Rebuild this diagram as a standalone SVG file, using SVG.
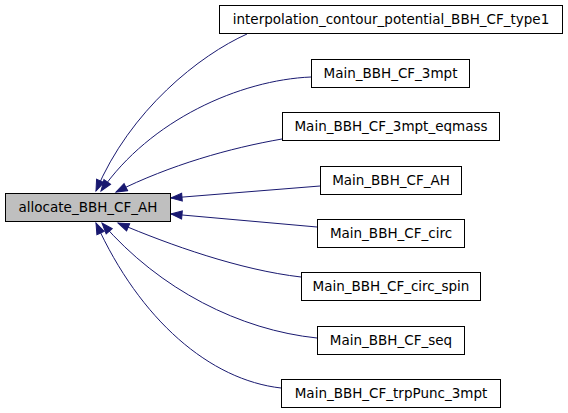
<svg xmlns="http://www.w3.org/2000/svg" width="568" height="413" viewBox="0 0 568 413">
<style>
.n rect{fill:#fff;stroke:#000;stroke-width:1}
.n.m rect{fill:#bfbfbf}
.n text{font-family:"DejaVu Sans",sans-serif;font-size:13.5px;text-anchor:middle;fill:#000}
.e path{fill:none;stroke:#191970;stroke-width:1}
</style>
<defs>
<marker id="a" markerUnits="userSpaceOnUse" markerWidth="14" markerHeight="12" refX="12" refY="5" orient="auto">
<path d="M1,1 L12,5 L1,9 z" fill="#191970" stroke="#191970"/>
</marker>
</defs>
<g class="e">
<path d="M247,34 C200,55 130,110 96,191" marker-end="url(#a)"/>
<path d="M311,77 C240,80 150,120 101,191" marker-end="url(#a)"/>
<path d="M282,139 C230,148 170,165 116,192" marker-end="url(#a)"/>
<path d="M320,186 L171,198" marker-end="url(#a)"/>
<path d="M317,227 L171,214" marker-end="url(#a)"/>
<path d="M301,277 C240,270 170,245 118,223" marker-end="url(#a)"/>
<path d="M317,338 C240,330 160,290 102,223" marker-end="url(#a)"/>
<path d="M281,388 C210,380 140,320 96,223" marker-end="url(#a)"/>
</g>
<g id="n0" class="n m"><rect x="5.5" y="193.5" width="165" height="28"/><text x="88" y="212">allocate_BBH_CF_AH</text></g>
<g id="n1" class="n"><rect x="219.5" y="5.5" width="343" height="28"/><text x="391" y="24">interpolation_contour_potential_BBH_CF_type1</text></g>
<g id="n2" class="n"><rect x="311.5" y="59.5" width="158" height="28"/><text x="390.5" y="78">Main_BBH_CF_3mpt</text></g>
<g id="n3" class="n"><rect x="282.5" y="112.5" width="217" height="28"/><text x="391" y="131">Main_BBH_CF_3mpt_eqmass</text></g>
<g id="n4" class="n"><rect x="320.5" y="166.5" width="141" height="28"/><text x="391" y="185">Main_BBH_CF_AH</text></g>
<g id="n5" class="n"><rect x="317.5" y="219.5" width="147" height="28"/><text x="391" y="238">Main_BBH_CF_circ</text></g>
<g id="n6" class="n"><rect x="301.5" y="272.5" width="179" height="28"/><text x="391" y="291">Main_BBH_CF_circ_spin</text></g>
<g id="n7" class="n"><rect x="317.5" y="326.5" width="147" height="28"/><text x="391" y="345">Main_BBH_CF_seq</text></g>
<g id="n8" class="n"><rect x="281.5" y="379.5" width="219" height="28"/><text x="391" y="398">Main_BBH_CF_trpPunc_3mpt</text></g>
</svg>
